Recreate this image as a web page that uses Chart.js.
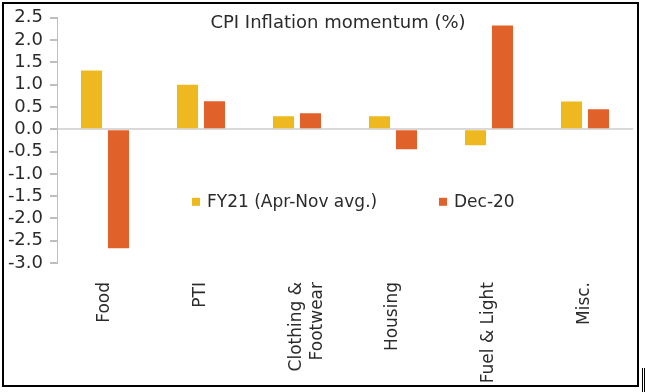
<!DOCTYPE html>
<html>
<head>
<meta charset="utf-8">
<script src="https://cdn.jsdelivr.net/npm/chart.js@4.4.0/dist/chart.umd.min.js"></script>
<style>
    html, body { margin: 0; padding: 0; background: #fff; }
    #wrap { position: relative; width: 646px; height: 392px; }
    #frame { position: absolute; left: 2px; top: 2px; width: 633px; height: 381px; border: 2px solid #000; pointer-events: none; }
    #edge { position: absolute; left: 642px; top: 368px; width: 1px; height: 24px; border-left: 1px solid #000; border-right: 1px solid #000; }
    canvas { position: absolute; left: 0; top: 0; }
</style>
</head>
<body>
<div id="wrap">
    <canvas id="cpiChart" width="646" height="392"></canvas>
    <div id="frame"></div>
    <div id="edge"></div>
</div>
<script>
var categories = ['Food', 'PTI', ['Clothing &', 'Footwear'], 'Housing', 'Fuel & Light', 'Misc.'];
var fy21Avg = [1.32, 1.00, 0.29, 0.29, -0.36, 0.62];
var dec20 = [-2.67, 0.63, 0.36, -0.45, 2.33, 0.45];
var yTicks = [2.5, 2.0, 1.5, 1.0, 0.5, 0.0, -0.5, -1.0, -1.5, -2.0, -2.5, -3.0];
var seriesNames = ['FY21 (Apr-Nov avg.)', 'Dec-20'];
var chartTitle = 'CPI Inflation momentum (%)';

var fontFamily = '"DejaVu Sans", sans-serif';
var textColor = '#2b2b2b';

// title + legend sit inside the plot area, like the excel original
var overlayText = {
    id: 'overlayText',
    afterDraw: function(chart) {
        var ctx = chart.ctx;
        var area = chart.chartArea;
        ctx.save();
        ctx.fillStyle = textColor;
        ctx.font = '18px ' + fontFamily;
        ctx.textAlign = 'center';
        ctx.textBaseline = 'middle';
        ctx.fillText(chartTitle, area.left + 281, area.top + 6);

        var legendY = area.top + 184;
        var starts = [area.left + 135, area.left + 382];
        ctx.font = '17px ' + fontFamily;
        ctx.textAlign = 'left';
        chart.data.datasets.forEach(function(ds, i) {
            ctx.fillStyle = ds.backgroundColor;
            ctx.fillRect(starts[i], legendY - 4, 8, 8);
            ctx.fillStyle = textColor;
            ctx.fillText(ds.label, starts[i] + 15, legendY + 1);
        });
        ctx.restore();
    }
};

var chart = new Chart(document.getElementById('cpiChart'), {
    type: 'bar',
    data: {
        labels: categories,
        datasets: [{
            label: seriesNames[0],
            data: fy21Avg,
            backgroundColor: '#EEB91F'
        }, {
            label: seriesNames[1],
            data: dec20,
            backgroundColor: '#E0622A'
        }]
    },
    options: {
        responsive: false,
        animation: false,
        devicePixelRatio: 1,
        categoryPercentage: 0.5625,
        barPercentage: 0.78,
        layout: {
            padding: { left: 0, right: 13, top: 16, bottom: 0 }
        },
        plugins: {
            legend: { display: false },
            title: { display: false },
            tooltip: { enabled: false }
        },
        scales: {
            x: {
                grid: { display: false, drawTicks: false },
                border: { display: false },
                ticks: {
                    color: textColor,
                    font: { family: fontFamily, size: 17 },
                    maxRotation: 90,
                    minRotation: 90,
                    padding: 19,
                    autoSkip: false
                },
                afterFit: function(scale) {
                    scale.height = 129;
                }
            },
            y: {
                min: -3,
                max: 2.5,
                afterBuildTicks: function(scale) {
                    scale.ticks = yTicks.map(function(v) { return { value: v }; });
                },
                grid: {
                    color: function(c) {
                        return c.tick && c.tick.value === 0 ? '#d9d9d9' : 'rgba(0,0,0,0)';
                    },
                    tickColor: '#bfbfbf',
                    tickLength: 7,
                    lineWidth: 2
                },
                border: { display: true, color: '#bfbfbf', width: 1 },
                ticks: {
                    color: textColor,
                    font: { family: fontFamily, size: 18 },
                    padding: 7,
                    autoSkip: false,
                    callback: function(v) { return Number(v).toFixed(1); }
                },
                afterFit: function(scale) {
                    scale.width = 57;
                }
            }
        }
    },
    plugins: [overlayText]
});
</script>
</body>
</html>
